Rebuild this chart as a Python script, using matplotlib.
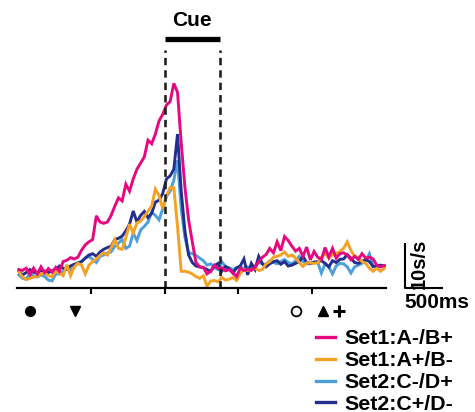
import numpy as np
import matplotlib.pyplot as plt

plt.rcParams['font.family'] = ['Liberation Sans', 'DejaVu Sans']
plt.rcParams['font.weight'] = 'bold'

# time axis (ms), 50 ms bins, cue onset at 0
t = np.arange(-1975, 3000, 50)

set1_a_minus = [4.2, 4.0, 4.5, 3.0, 4.5, 3.2, 4.8, 3.5, 4.4, 3.6,
                4.7, 3.8, 6.0, 6.3, 6.9, 6.6, 7.0, 8.6, 9.8, 10.5,
                11.0, 16.4, 15.0, 14.7, 15.0, 16.5, 18.6, 20.5, 19.8, 23.6,
                22.0, 24.8, 27.0, 28.4, 29.8, 33.6, 32.8, 35.0, 38.0, 39.5,
                41.6, 42.4, 46.5, 44.5, 33.0, 23.0, 15.5, 10.5, 5.8, 4.8,
                4.7, 3.2, 3.8, 5.2, 4.4, 4.6, 3.9, 4.2, 3.5, 2.6,
                4.5, 4.0, 4.2, 4.0, 4.7, 6.0, 7.0, 7.6, 9.0, 8.0,
                10.5, 8.5, 11.7, 10.8, 9.5, 8.4, 9.0, 7.2, 9.3, 6.4,
                8.3, 7.0, 6.5, 9.2, 7.0, 9.0, 6.8, 7.8, 8.0, 7.5,
                6.4, 7.2, 6.5, 7.8, 6.8, 7.0, 6.6, 5.2, 4.8, 5.1]

set1_a_plus = [3.8, 2.5, 1.9, 2.2, 2.5, 2.6, 3.2, 3.5, 2.8, 2.6,
               3.8, 3.4, 2.8, 5.3, 2.8, 4.8, 5.6, 5.2, 3.2, 5.2,
               6.0, 6.6, 7.4, 8.0, 7.5, 9.2, 11.0, 9.0, 8.8, 11.5,
               14.5, 12.5, 14.8, 15.2, 16.2, 17.5, 18.6, 22.5, 21.0, 18.0,
               21.0, 22.8, 22.8, 14.0, 3.8, 3.8, 3.6, 3.2, 2.6, 2.2,
               2.8, 0.4, 1.6, 1.7, 1.4, 2.4, 1.8, 2.0, 2.4, 1.7,
               3.3, 4.2, 4.0, 4.1, 4.5, 4.0, 4.2, 5.5, 6.0, 7.0,
               7.2, 7.5, 8.2, 7.2, 7.5, 6.8, 5.8, 4.9, 5.7, 5.7,
               5.6, 5.7, 7.0, 7.8, 6.8, 7.6, 7.8, 8.3, 9.0, 10.5,
               8.5, 7.2, 7.0, 6.0, 5.6, 4.5, 3.8, 4.5, 3.8, 4.4]

set2_c_minus = [3.0, 2.2, 2.0, 3.4, 2.8, 2.5, 3.0, 2.6, 1.8, 1.6,
                3.2, 3.2, 3.8, 4.5, 4.0, 4.8, 5.8, 6.0, 6.8, 7.2,
                6.5, 5.8, 7.2, 7.5, 8.0, 8.2, 9.5, 10.2, 11.0, 9.0,
                9.5, 12.5, 10.8, 13.2, 14.0, 15.0, 17.2, 16.5, 15.5, 18.0,
                20.8, 22.0, 24.5, 29.0, 18.0, 11.5, 8.0, 7.8, 7.4, 6.8,
                6.2, 5.2, 5.5, 4.6, 4.2, 6.0, 4.8, 4.6, 4.2, 4.5,
                4.8, 4.4, 4.8, 4.2, 5.0, 5.8, 5.5, 5.3, 6.2, 5.8,
                5.5, 6.0, 6.5, 5.8, 5.5, 6.2, 7.2, 6.0, 5.5, 5.5,
                6.0, 5.8, 3.4, 5.5, 4.8, 3.2, 5.0, 5.6, 5.5, 4.8,
                3.4, 4.8, 5.2, 5.6, 6.2, 7.8, 4.8, 5.0, 4.9, 5.0]

set2_c_plus = [3.8, 3.0, 3.5, 4.2, 3.6, 3.4, 4.0, 3.8, 3.5, 3.9,
               4.2, 5.0, 4.5, 4.2, 5.0, 5.4, 5.6, 6.0, 6.8, 7.5,
               7.8, 7.2, 8.2, 8.8, 9.2, 9.5, 11.0, 11.3, 11.8, 13.0,
               14.5, 17.5, 15.0, 16.5, 17.4, 16.0, 17.0, 19.5, 20.0, 21.5,
               24.8, 25.5, 27.0, 35.0, 22.0, 13.0, 7.5, 5.8, 5.0, 4.8,
               4.6, 4.2, 3.8, 5.0, 5.6, 3.8, 4.9, 4.4, 3.4, 4.6,
               5.0, 6.6, 3.0, 5.6, 4.2, 7.2, 5.5, 4.8, 5.5, 6.0,
               6.2, 5.4, 6.0, 5.0, 5.2, 5.6, 6.0, 7.2, 5.8, 5.6,
               5.8, 6.0, 6.2, 5.6, 4.8, 6.2, 5.8, 6.5, 6.6, 7.6,
               6.8, 5.8, 5.6, 6.0, 6.5, 6.0, 4.9, 5.0, 5.2, 5.0]

labels = ['Set1:A-/B+', 'Set1:A+/B-', 'Set2:C-/D+', 'Set2:C+/D-']
colors = ['#E5087E', '#F5A124', '#4D9FDB', '#232E8E']

cue_on, cue_off = 0, 750
event_times = [-1825, -1215, 1785, 2150, 2365]

fig = plt.figure(figsize=(4.75, 4.12), dpi=100)
ax = fig.add_axes([17 / 475, 124 / 412, 369 / 475, 278 / 412])

# draw order: light blue, navy, orange, pink on top
series = [set1_a_minus, set1_a_plus, set2_c_minus, set2_c_plus]
for k in [2, 3, 1, 0]:
    ax.plot(t, series[k], color=colors[k], lw=2.1, solid_joinstyle='miter')

ax.set_xlim(-2000, 3000)
ax.set_ylim(0, 63.2)

# cue bar + dashed lines
ax.plot([cue_on, cue_off], [56.6, 56.6], color='black', lw=3.8, solid_capstyle='butt')
ax.text((cue_on + cue_off) / 2, 60.7, 'Cue', ha='center', va='center', fontsize=15, fontweight='bold')
for xc in [cue_on, cue_off]:
    ax.plot([xc, xc], [0, 54.1], color='#222222', lw=1.9, dashes=(2.8, 1.9))

ax.spines[['left', 'right', 'top']].set_visible(False)
ax.spines['bottom'].set_linewidth(1.6)
ax.set_yticks([])
ax.set_xticks([-1000, 0, 1000, 2000])
ax.set_xticklabels([])
ax.tick_params(axis='x', length=4, width=1.5)

# event markers under the axis
ym = -5.2
ax.plot(event_times[0], ym, 'o', color='black', ms=7, clip_on=False)
ax.plot(event_times[1], ym, 'v', color='black', ms=7.5, clip_on=False)
ax.plot(event_times[2], ym, 'o', mfc='white', mec='black', mew=1.3, ms=7, clip_on=False)
ax.plot(event_times[3], ym, '^', color='black', ms=7.5, clip_on=False)
ax.plot(event_times[4], ym, '+', color='black', ms=9, mew=2.2, clip_on=False)

# scale bar
sx = 3257
ax.plot([sx, sx, sx + 500], [10, 0, 0], color='black', lw=1.5, clip_on=False)
ax.text(sx + 430, -3.3, '500ms', ha='center', va='center', fontsize=15, fontweight='bold')
ax.text(sx + 200, 5.6, '10s/s', ha='center', va='center', rotation=90, fontsize=14.5, fontweight='bold')

# legend
rows_y = [337, 359, 381, 402]
for k in range(4):
    yf = 1 - rows_y[k] / 412
    fig.add_artist(plt.Line2D([316 / 475, 335 / 475], [yf, yf], color=colors[k], lw=2.4))
    fig.text(344 / 475, 1 - (rows_y[k] + 7.5) / 412, labels[k], ha='left', va='baseline',
             fontsize=15.4, fontweight='bold')

fig.savefig('out.png', dpi=100)
